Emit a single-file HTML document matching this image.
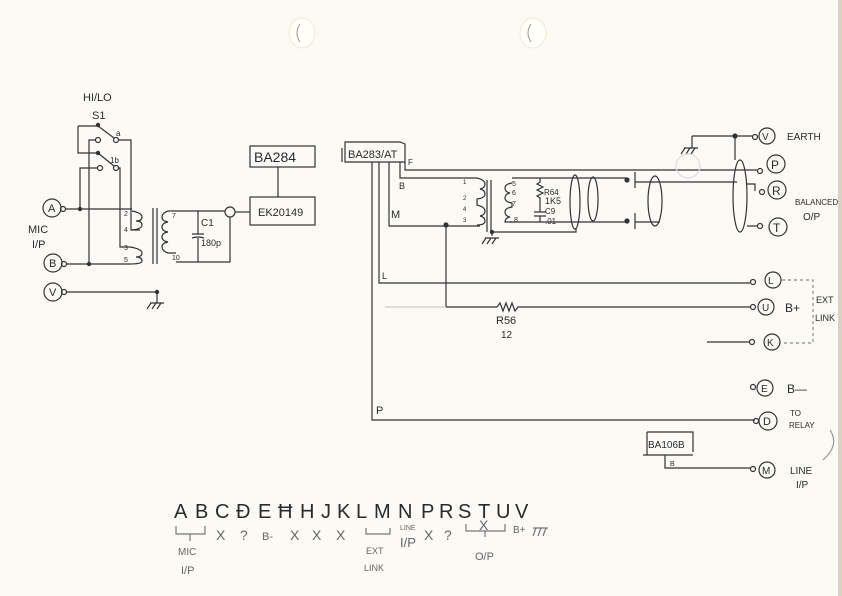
<!DOCTYPE html>
<html><head><meta charset="utf-8"><style>
html,body{margin:0;padding:0;background:#fbfaf4;}
svg{display:block}
text{font-family:"Liberation Sans",sans-serif;fill:#2a2a2a}
.l{fill:#666}
</style></head><body>
<svg width="842" height="596" viewBox="0 0 842 596" xmlns="http://www.w3.org/2000/svg">
<rect width="842" height="596" fill="#fbfaf4"/>
<rect x="838" y="0" width="4" height="596" fill="#d8d2c0"/>
<ellipse cx="302" cy="33" rx="13" ry="15" fill="#fffef8" stroke="#eee9d8"/>
<path d="M300 24 Q294 33 300 42" stroke="#999" fill="none"/>
<ellipse cx="533" cy="33" rx="13" ry="15" fill="#fffef8" stroke="#eee9d8"/>
<path d="M531 24 Q525 33 531 42" stroke="#999" fill="none"/>

<g stroke="#333" stroke-width="1.2" fill="none">
<!-- switch -->
<path d="M78 126 H98 L114 138 M78 126 V153 H98 L114 166"/>
<circle cx="98" cy="125" r="1.6" fill="#333"/><circle cx="98" cy="153" r="1.6" fill="#333"/>
<circle cx="98" cy="140" r="2.5" fill="#fbfaf4"/><circle cx="116" cy="140" r="2.5" fill="#fbfaf4"/>
<circle cx="100" cy="168" r="2.5" fill="#fbfaf4"/><circle cx="116" cy="168" r="2.5" fill="#fbfaf4"/>
<path d="M95 140 H89 V264 M97 168 H80 V208 M119 140 H131 V230 H140 M119 168 H120 V247 H130"/>
<circle cx="80" cy="209" r="1.6" fill="#333"/><circle cx="89" cy="264" r="1.6" fill="#333"/>
<!-- inputs -->
<circle cx="52" cy="208" r="9"/><circle cx="63" cy="209" r="2.5"/>
<circle cx="53" cy="263" r="9"/><circle cx="64" cy="264" r="2.5"/>
<circle cx="53" cy="292" r="9"/><circle cx="64" cy="292" r="2.5"/>
<path d="M66 209 H132 M67 264 H130 M67 292 H157 V303"/>
<circle cx="157" cy="292" r="1.6" fill="#333"/>
<path d="M150 303 H164 M151 303 L147 309 M156 303 L152 309 M161 303 L157 309"/>
<!-- T1 coils -->
<path d="M132 211 q10 2 10 6 q0 4 -6 4 q6 0 6 4 q0 4 -10 5"/>
<path d="M130 247 q12 2 12 6 q0 4 -6 4 q6 0 6 4 q0 3 -12 3"/>
<path d="M153 208 V264 M157 208 V264"/>
<path d="M176 211 H168 q-6 2 -6 6 q0 4 6 5 q-6 1 -6 5 q0 4 6 5 q-6 1 -6 5 q0 4 6 5 q-6 1 -6 5 q0 4 6 6 H176"/>
<path d="M176 211 H225 M176 262 H230 V217 M198 211 V234 M198 238 V262 M192 234 H204 M192 238 Q198 236 204 238"/>
<circle cx="230" cy="212" r="5"/>
<path d="M235 212 H250"/>
<rect x="250" y="197" width="65" height="28"/>
<rect x="250" y="146" width="65" height="21"/>
<path d="M278 167 V197"/>
<!-- BA283 -->
<path d="M345 142 H400 L405 144 V162 H345 Z M342 148 V162"/>
<path d="M372 162 V420 H755 M379 162 V283 H750 M389 162 V226 H480 M446 226 V307 H497 M400 162 V178 H477 M405 162 V170 H757"/>
<circle cx="446" cy="225" r="2" fill="#333"/>
<path d="M497 307 l3 -4 l3 8 l3 -8 l3 8 l3 -8 l3 8 l3 -4 H750"/>
<path d="M385 307 H446" stroke="#ccc"/>
<!-- T2 -->
<path d="M477 178 q8 2 8 6 q0 4 -5 5 q5 1 5 5 q0 4 -8 5 V205 q8 2 8 6 q0 4 -5 5 q5 1 5 5 q0 4 -8 4"/>
<path d="M487 180 V232 M491 180 V232"/>
<path d="M512 183 q-7 1 -7 5 q0 4 5 5 q-5 1 -5 5 q0 4 7 5 V207 q-7 1 -7 5 q0 4 5 5 q-5 1 -5 5 H512"/>
<path d="M512 178 H627 M510 222 H627 M540 178 V182 l-3 2 l6 3 l-6 3 l6 3 l-6 3 l3 2 V212 M534 212 H546 M534 216 H546 M540 216 V222"/>
<path d="M492 232 H576 V228 M492 232 V236"/>
<circle cx="492" cy="232" r="1.6" fill="#333"/>
<path d="M485 238 H499 M486 238 L482 244 M491 238 L487 244 M496 238 L492 244"/>
<ellipse cx="575" cy="202" rx="5" ry="27"/>
<ellipse cx="593" cy="199" rx="5" ry="22"/>
<circle cx="627" cy="180" r="2" fill="#333"/><circle cx="627" cy="221" r="2" fill="#333"/>
<path d="M635 172 V188 M635 213 V229 M635 182 H737 M635 222 H660"/>
<ellipse cx="655" cy="201" rx="7" ry="25"/>
<!-- output terminals -->
<path d="M692 136 H752 M735 136 V160 M692 136 V148"/>
<circle cx="735" cy="136" r="2" fill="#333"/>
<path d="M684 148 H698 M685 148 L681 154 M690 148 L686 154 M695 148 L691 154"/>
<ellipse cx="740" cy="196" rx="7" ry="36"/>
<path d="M747 184 H755 V191 M747 226 H757"/>
<circle cx="755" cy="137" r="2.5"/><circle cx="767" cy="136" r="8"/>
<circle cx="760" cy="171" r="2.5"/><circle cx="776" cy="164" r="9"/>
<circle cx="762" cy="192" r="2.5"/><circle cx="777" cy="190" r="9"/>
<circle cx="760" cy="226" r="2.5"/><circle cx="778" cy="227" r="9"/>
<circle cx="688" cy="166" r="12" stroke="#ddd"/>
<circle cx="753" cy="282" r="2.5"/><circle cx="773" cy="280" r="8"/>
<circle cx="753" cy="307" r="2.5"/><circle cx="766" cy="307" r="8"/>
<path d="M707 342 H750"/>
<circle cx="752" cy="342" r="2.5"/><circle cx="772" cy="342" r="8"/>
<path d="M782 280 H813 V343 H782" stroke="#888" stroke-dasharray="3 3"/>
<circle cx="753" cy="387" r="2.5"/><circle cx="765" cy="388" r="8"/>
<circle cx="756" cy="421" r="2.5"/><circle cx="768" cy="421" r="9"/>
<path d="M830 430 Q840 445 823 460" stroke="#999"/>
<path d="M647 432 H693 V452 M643 455 H693 M647 432 V455 M665 455 V468 H750"/>
<circle cx="753" cy="469" r="2.5"/><circle cx="767" cy="470" r="8"/>
<!-- legend marks -->
<g stroke="#777">
<path d="M176 526 V534 H205 V526 M190 534 V541"/>
<path d="M366 528 V534 H390 V528"/>
<path d="M466 524 V531 H505 V524 M485 531 V537"/>
<path d="M533 528 H548 M536 528 L533 536 M541 528 L538 536 M546 528 L543 536"/>
</g>
</g>

<g font-size="11">
<text x="83" y="101">HI/LO</text>
<text x="92" y="119">S1</text>
<text x="116" y="136" font-size="8">a</text>
<text x="110" y="163" font-size="8">1b</text>
<text x="48" y="212" font-size="11">A</text>
<text x="49" y="267">B</text>
<text x="49" y="296">V</text>
<text x="28" y="233">MIC</text>
<text x="32" y="248">I/P</text>
<text x="124" y="216" font-size="7">2</text><text x="124" y="232" font-size="7">4</text>
<text x="124" y="250" font-size="7">3</text><text x="124" y="262" font-size="7">5</text>
<text x="172" y="218" font-size="7">7</text><text x="172" y="260" font-size="7">10</text>
<text x="201" y="226" font-size="10">C1</text><text x="201" y="246" font-size="9">180p</text>
<text x="258" y="216" font-size="11">EK20149</text>
<text x="254" y="162" font-size="14">BA284</text>
<text x="348" y="158" font-size="11">BA283/AT</text>
<text x="408" y="165" font-size="8">F</text>
<text x="399" y="189" font-size="9">B</text>
<text x="391" y="218" font-size="11">M</text>
<text x="463" y="184" font-size="6">1</text><text x="463" y="200" font-size="6">2</text>
<text x="463" y="211" font-size="6">4</text><text x="463" y="222" font-size="6">3</text>
<text x="512" y="186" font-size="7">5</text><text x="512" y="195" font-size="7">6</text>
<text x="512" y="206" font-size="7">7</text><text x="514" y="222" font-size="7">8</text>
<text x="544" y="195" font-size="8">R64</text><text x="545" y="204" font-size="9">1K5</text>
<text x="545" y="214" font-size="8">C9</text><text x="545" y="224" font-size="8">.01</text>
<text x="762" y="140" font-size="10">V</text><text x="787" y="140" font-size="10">EARTH</text>
<text x="771" y="169" font-size="12">P</text>
<text x="772" y="195" font-size="12">R</text>
<text x="773" y="232" font-size="12">T</text>
<text x="795" y="205" font-size="8">BALANCED</text>
<text x="803" y="220" font-size="10">O/P</text>
<text x="382" y="279" font-size="9">L</text>
<text x="768" y="284" font-size="10">L</text>
<text x="762" y="311" font-size="10">U</text>
<text x="785" y="312" font-size="12">B+</text>
<text x="816" y="303" font-size="9">EXT</text><text x="815" y="321" font-size="9">LINK</text>
<text x="496" y="324" font-size="11">R56</text><text x="501" y="338" font-size="10">12</text>
<text x="767" y="346" font-size="10">K</text>
<text x="761" y="392" font-size="10">E</text>
<text x="787" y="393" font-size="12">B—</text>
<text x="376" y="414" font-size="11">P</text>
<text x="763" y="425" font-size="11">D</text>
<text x="790" y="416" font-size="8">TO</text><text x="789" y="428" font-size="8">RELAY</text>
<text x="648" y="448" font-size="10">BA106B</text>
<text x="670" y="466" font-size="7">B</text>
<text x="762" y="474" font-size="10">M</text>
<text x="790" y="474" font-size="10">LINE</text><text x="796" y="488" font-size="10">I/P</text>
</g>

<g font-size="20" fill="#444">
<text x="174" y="518">A</text><text x="195" y="518">B</text><text x="215" y="518">C</text>
<text x="236" y="518">Đ</text><text x="258" y="518">E</text><text x="278" y="518">Ħ</text>
<text x="300" y="518">H</text><text x="321" y="518">J</text><text x="337" y="518">K</text>
<text x="356" y="518">L</text><text x="374" y="518">M</text><text x="398" y="518">N</text>
<text x="421" y="518">P</text><text x="439" y="518">R</text><text x="458" y="518">S</text>
<text x="478" y="518">T</text><text x="496" y="518">U</text><text x="515" y="518">V</text>
</g>
<g fill="#777">
<text class="l" x="178" y="555" font-size="10">MIC</text>
<text class="l" x="181" y="574" font-size="11">I/P</text>
<text class="l" x="216" y="540" font-size="14">X</text>
<text class="l" x="240" y="540" font-size="14">?</text>
<text class="l" x="262" y="540" font-size="11">B-</text>
<text class="l" x="290" y="540" font-size="14">X</text>
<text class="l" x="312" y="540" font-size="14">X</text>
<text class="l" x="336" y="540" font-size="14">X</text>
<text class="l" x="366" y="554" font-size="9">EXT</text>
<text class="l" x="364" y="571" font-size="9">LINK</text>
<text class="l" x="400" y="530" font-size="7">LINE</text>
<text class="l" x="400" y="547" font-size="13">I/P</text>
<text class="l" x="424" y="540" font-size="14">X</text>
<text class="l" x="444" y="540" font-size="14">?</text>
<text class="l" x="479" y="530" font-size="14">X</text>
<text class="l" x="475" y="560" font-size="11">O/P</text>
<text class="l" x="513" y="533" font-size="10">B+</text>
</g>
</svg>
</body></html>
